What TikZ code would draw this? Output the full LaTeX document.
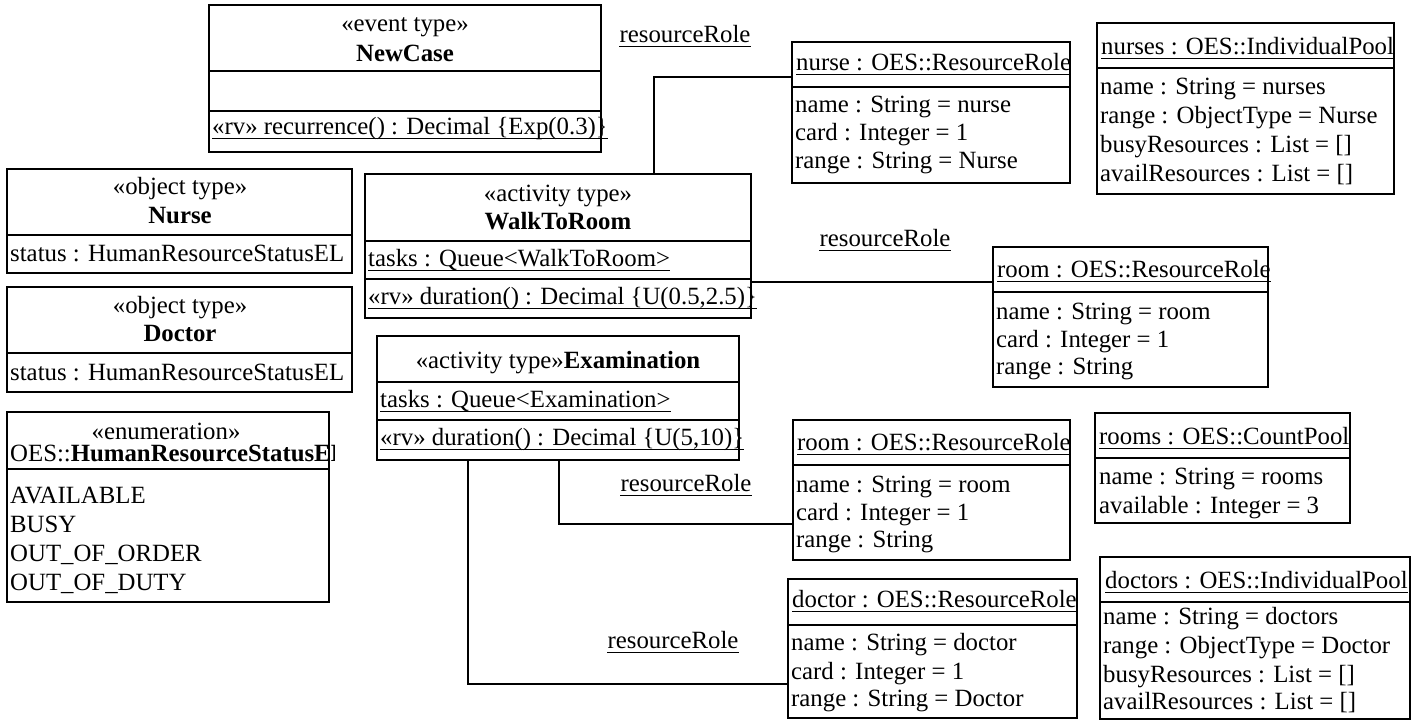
\documentclass[tikz,border=0pt]{standalone}
\usepackage{fontspec}
\setmainfont{Liberation Serif}
\newcommand\fs{\fontsize{24.8}{28.5}\selectfont}
\tikzset{
 box/.style={draw,line width=1.8pt,inner sep=0,outer sep=0},
 divl/.style={line width=1.8pt},
 conn/.style={line width=1.3pt},
 tx/.style={inner sep=0,anchor=mid west,font=\fs},
 ct/.style={inner sep=0,anchor=mid,font=\fs},
 ulk/.style={line width=1.8pt},
 ull/.style={line width=1.5pt},
}
\newcommand\ubox[5]{\node[box,anchor=north west,minimum width={(#4)-(#2)},minimum height={(#5)-(#3)}] (#1) at (#2,#3) {};}
\newcommand\udiv[2]{\draw[divl] (#1.west |- 0,#2) -- (#1.east |- 0,#2);}
\newcommand\bclip[2][3pt]{\clip ([xshift=-1pt]#2.north west) rectangle ([xshift=#1]#2.south east);}
\newcommand\uln[2][ulk]{\draw[#1] ([yshift=-4.2pt]#2.base west) -- ([yshift=-4.2pt]#2.base east);}
\begin{document}
\begin{tikzpicture}[x=1pt,y=-1pt]
\useasboundingbox (0,0) rectangle (1418,720);
\fill[white] (0,0) rectangle (1418,720);

% ---------- boxes ----------
\ubox{nc}{209}{5}{601}{152}
\ubox{nrs}{7}{169}{352}{273}
\ubox{drs}{7}{287}{352}{392}
\ubox{enm}{7}{412}{329}{602}
\ubox{wtr}{365}{174}{751}{318}
\ubox{exm}{377}{336}{739}{460}
\ubox{rrN}{792}{42}{1070}{183}
\ubox{poolN}{1097}{23}{1394}{194}
\ubox{rrRa}{993}{247}{1268}{387}
\ubox{rrRb}{793}{420}{1070}{560}
\ubox{poolR}{1095}{413}{1350}{523}
\ubox{rrD}{788}{579}{1077}{718}
\ubox{poolD}{1100}{557}{1410}{719}

% ---------- dividers ----------
\udiv{nc}{71}\udiv{nc}{111}
\udiv{nrs}{235}
\udiv{drs}{353}
\udiv{enm}{469}
\udiv{wtr}{241}\udiv{wtr}{279}
\udiv{exm}{382}\udiv{exm}{420}
\udiv{rrN}{87}
\udiv{poolN}{68}
\udiv{rrRa}{292}
\udiv{rrRb}{465}
\udiv{poolR}{458}
\udiv{rrD}{625}
\udiv{poolD}{602}

% ---------- texts ----------
\begin{scope}\bclip{nc}
\node[ct] (nc1) at (405,29) {«event type»};
\node[ct] (nc2) at (405,59) {\textbf{NewCase}};
\node[tx] (nc3) at (212,132) {«rv» recurrence() : Decimal \{Exp(0.3)\}};
\end{scope}
\uln{nc3}

\node[ct] (nrs1) at (180,192) {«object type»};
\node[ct] (nrs2) at (180,221) {\textbf{Nurse}};
\node[tx] (nrs3) at (10,259) {status : HumanResourceStatusEL};

\node[ct] (drs1) at (180,311) {«object type»};
\node[ct] (drs2) at (180,339) {\textbf{Doctor}};
\node[tx] (drs3) at (10,378) {status : HumanResourceStatusEL};

\begin{scope}\bclip[5pt]{enm}
\node[ct] (enm1) at (166,437) {«enumeration»};
\node[tx] (enm2) at (10,459) {OES::\textbf{HumanResourceStatusEL}};
\end{scope}
\node[tx] (enm3) at (10,501) {AVAILABLE};
\node[tx] (enm4) at (10,530) {BUSY};
\node[tx] (enm5) at (10,559) {OUT\_OF\_ORDER};
\node[tx] (enm6) at (10,588) {OUT\_OF\_DUTY};

\begin{scope}\bclip{wtr}
\node[ct] (wtr1) at (558,199) {«activity type»};
\node[ct] (wtr2) at (558,227) {\textbf{WalkToRoom}};
\node[tx] (wtr3) at (368,264) {tasks : Queue<WalkToRoom>};
\node[tx] (wtr4) at (368,302) {«rv» duration() : Decimal \{U(0.5,2.5)\}};
\end{scope}
\uln{wtr3}\uln{wtr4}

\begin{scope}\bclip{exm}
\node[ct] (exm1) at (558,366) {«activity type»\textbf{Examination}};
\node[tx] (exm2) at (380,405) {tasks : Queue<Examination>};
\node[tx] (exm3) at (380,443) {«rv» duration() : Decimal \{U(5,10)\}};
\end{scope}
\uln{exm2}\uln{exm3}

\begin{scope}\bclip{rrN}
\node[tx] (rrN1) at (796,68) {nurse : OES::ResourceRole};
\end{scope}
\uln{rrN1}
\node[tx] (rrN2) at (795,110) {name : String = nurse};
\node[tx] (rrN3) at (795,138) {card : Integer = 1};
\node[tx] (rrN4) at (795,166) {range : String = Nurse};

\begin{scope}\bclip{poolN}
\node[tx] (poolN1) at (1101,52) {nurses : OES::IndividualPool};
\end{scope}
\uln{poolN1}
\node[tx] (poolN2) at (1100,92) {name : String = nurses};
\node[tx] (poolN3) at (1100,121) {range : ObjectType = Nurse};
\node[tx] (poolN4) at (1100,150) {busyResources : List = []};
\node[tx] (poolN5) at (1100,179) {availResources : List = []};

\begin{scope}\bclip{rrRa}
\node[tx] (rrRa1) at (997,275) {room : OES::ResourceRole};
\end{scope}
\uln{rrRa1}
\node[tx] (rrRa2) at (996,317) {name : String = room};
\node[tx] (rrRa3) at (996,345) {card : Integer = 1};
\node[tx] (rrRa4) at (996,372) {range : String};

\begin{scope}\bclip{rrRb}
\node[tx] (rrRb1) at (797,448) {room : OES::ResourceRole};
\end{scope}
\uln{rrRb1}
\node[tx] (rrRb2) at (796,490) {name : String = room};
\node[tx] (rrRb3) at (796,518) {card : Integer = 1};
\node[tx] (rrRb4) at (796,545) {range : String};

\begin{scope}\bclip{poolR}
\node[tx] (poolR1) at (1099,442) {rooms : OES::CountPool};
\end{scope}
\uln{poolR1}
\node[tx] (poolR2) at (1099,482) {name : String = rooms};
\node[tx] (poolR3) at (1099,511) {available : Integer = 3};

\begin{scope}\bclip{rrD}
\node[tx] (rrD1) at (792,605) {doctor : OES::ResourceRole};
\end{scope}
\uln{rrD1}
\node[tx] (rrD2) at (791,648) {name : String = doctor};
\node[tx] (rrD3) at (791,677) {card : Integer = 1};
\node[tx] (rrD4) at (791,704) {range : String = Doctor};

\begin{scope}\bclip{poolD}
\node[tx] (poolD1) at (1105,586) {doctors : OES::IndividualPool};
\end{scope}
\uln{poolD1}
\node[tx] (poolD2) at (1103,622) {name : String = doctors};
\node[tx] (poolD3) at (1103,651) {range : ObjectType = Doctor};
\node[tx] (poolD4) at (1103,680) {busyResources : List = []};
\node[tx] (poolD5) at (1103,707) {availResources : List = []};

% ---------- connectors ----------
\coordinate (c1) at (654,77);
\draw[conn] (wtr.north -| c1) -- (c1) -- (rrN.west |- c1);
\coordinate (c2) at (760,282);
\draw[conn] (wtr.east |- c2) -- (rrRa.west |- c2);
\coordinate (c3) at (559,524);
\draw[conn] (exm.south -| c3) -- (c3) -- (rrRb.west |- c3);
\coordinate (c4) at (468,684);
\draw[conn] (exm.south -| c4) -- (c4) -- (rrD.west |- c4);

% ---------- association labels ----------
\node[ct] (lab1) at (685,40) {resourceRole};
\node[ct] (lab2) at (885,244) {resourceRole};
\node[ct] (lab3) at (686,489) {resourceRole};
\node[ct] (lab4) at (673,646) {resourceRole};
\uln[ull]{lab1}\uln[ull]{lab2}\uln[ull]{lab3}\uln[ull]{lab4}
\end{tikzpicture}
\end{document}
